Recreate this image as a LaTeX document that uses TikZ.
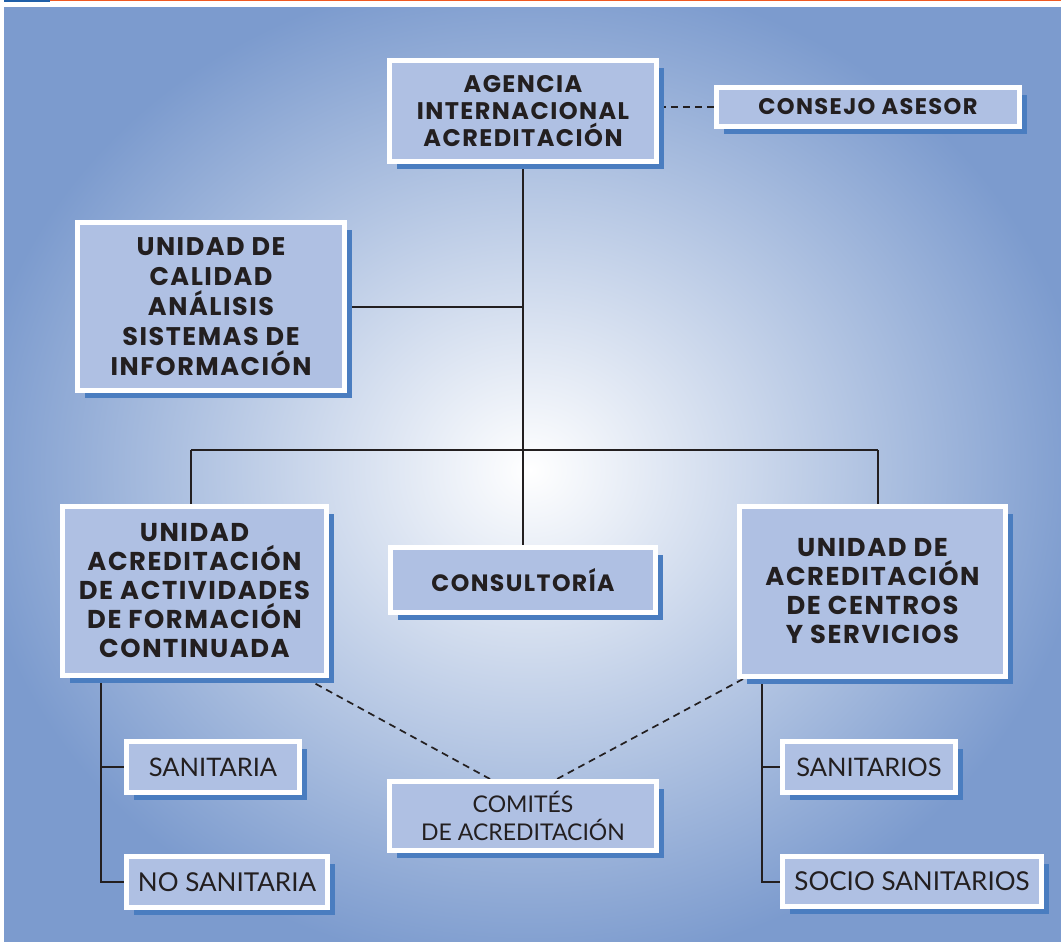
\documentclass[tikz,border=0pt]{standalone}
\usepackage{fontspec}
\setmainfont{Lato}
\newfontfamily\boxfont[LetterSpace=6]{Poppins}
\usepackage{tikz}
\usetikzlibrary{shadows}
\usetikzlibrary{positioning}
\pgfdeclarelayer{back}
\pgfdeclarelayer{lines}
\pgfsetlayers{back,lines,main}
\definecolor{panelblue}{RGB}{124,155,206}
\definecolor{boxblue}{RGB}{175,192,227}
\definecolor{shadowblue}{RGB}{74,125,192}
\definecolor{inkgray}{RGB}{35,31,32}
\definecolor{stripblue}{RGB}{31,95,168}
\definecolor{stripred}{RGB}{240,90,34}

\begin{document}
\begin{tikzpicture}[x=1pt,y=-1pt]
\tikzset{
    unit/.style={draw=white, line width=5pt, fill=boxblue, inner sep=0pt,
        align=center, text=inkgray,
        drop shadow={shadow xshift=7.5pt, shadow yshift=-7.5pt, fill=shadowblue, opacity=1}},
    big/.style={unit, font=\boxfont\bfseries\fontsize{#1}{29}\selectfont},
    big/.default=24,
    small/.style={unit, font=\fontsize{#1}{28}\selectfont},
    small/.default=25.5,
    link/.style={line width=2pt, draw=inkgray},
    dashlink/.style={link, line width=1.7pt, dash pattern=on 7pt off 5pt},
}
\useasboundingbox (0,0) rectangle (1061,942);

  \begin{pgfonlayer}{back}
    \fill[stripblue] (4,0) rectangle (50,2.5);
    \fill[stripred] (50,0) rectangle (1061,1.5);
    \begin{scope}
      \clip (4,8) rectangle (1061,942);
      \shade[inner color=white, outer color=panelblue] (-30,-30) rectangle (1090,970);
    \end{scope}
  \end{pgfonlayer}

  \node[big, minimum width=267pt, minimum height=101pt, font=\boxfont\bfseries\fontsize{24}{27}\selectfont] (A) at (523,111) {AGENCIA\\INTERNACIONAL\\ACREDITACIÓN};
  \node[big=22.6, minimum width=303pt, minimum height=39pt] (B) at (868,107) {CONSEJO ASESOR};
  \node[big, minimum width=267pt, minimum height=168pt, font=\boxfont\bfseries\fontsize{25.5}{30}\selectfont] (C) at (211,306.5) {UNIDAD DE\\CALIDAD\\ANÁLISIS\\SISTEMAS DE\\INFORMACIÓN};
  \node[big=25.8, minimum width=264pt, minimum height=169pt] (D) at (194.5,591) {UNIDAD\\ACREDITACIÓN\\DE ACTIVIDADES\\DE FORMACIÓN\\CONTINUADA};
  \node[big=23.6, minimum width=265pt, minimum height=65pt] (E) at (523,580) {CONSULTORÍA};
  \node[big=25.8, minimum width=266pt, minimum height=170pt] (F) at (872.5,591.5) {UNIDAD DE\\ACREDITACIÓN\\DE CENTROS\\Y SERVICIOS};
  \node[small=23, minimum width=267pt, minimum height=69pt] (G) at (523,816) {COMITÉS\\DE ACREDITACIÓN};
  \node[small, minimum width=173pt, minimum height=51pt] (H) at (213,767) {SANITARIA};
  \node[small=26, minimum width=201pt, minimum height=51pt] (I) at (227,882) {NO SANITARIA};
  \node[small, minimum width=173pt, minimum height=51pt] (J) at (869,767) {SANITARIOS};
  \node[small=26, minimum width=259pt, minimum height=50pt] (K) at (912,881.5) {SOCIO SANITARIOS};

  \begin{pgfonlayer}{lines}
    \coordinate (h1) at (191,450);
    \coordinate (h2) at (878,450);
    \coordinate (l1) at (101,678);
    \coordinate (r1) at (762,679);
    \draw[link] (A.south) -- (E.north);
    \draw[link] (C.east) -- (C.east -| A.south);
    \draw[link] (h1) -- (h2);
    \draw[link] (h1) -- (h1 |- D.north);
    \draw[link] (h2) -- (h2 |- F.north);
    \draw[link] (l1) |- (I.west);
    \draw[link] (l1 |- H.west) -- (H.west);
    \draw[link] (r1) |- (K.west);
    \draw[link] (r1 |- J.west) -- (J.west);
    \draw[dashlink] (A.east |- B.west) -- (B.west);
    \draw[dashlink] ([xshift=-24pt]D.south east) -- ([xshift=-33pt]G.north);
    \draw[dashlink] ([xshift=6pt]F.south west) -- ([xshift=34pt]G.north);
  \end{pgfonlayer}
\end{tikzpicture}
\end{document}
